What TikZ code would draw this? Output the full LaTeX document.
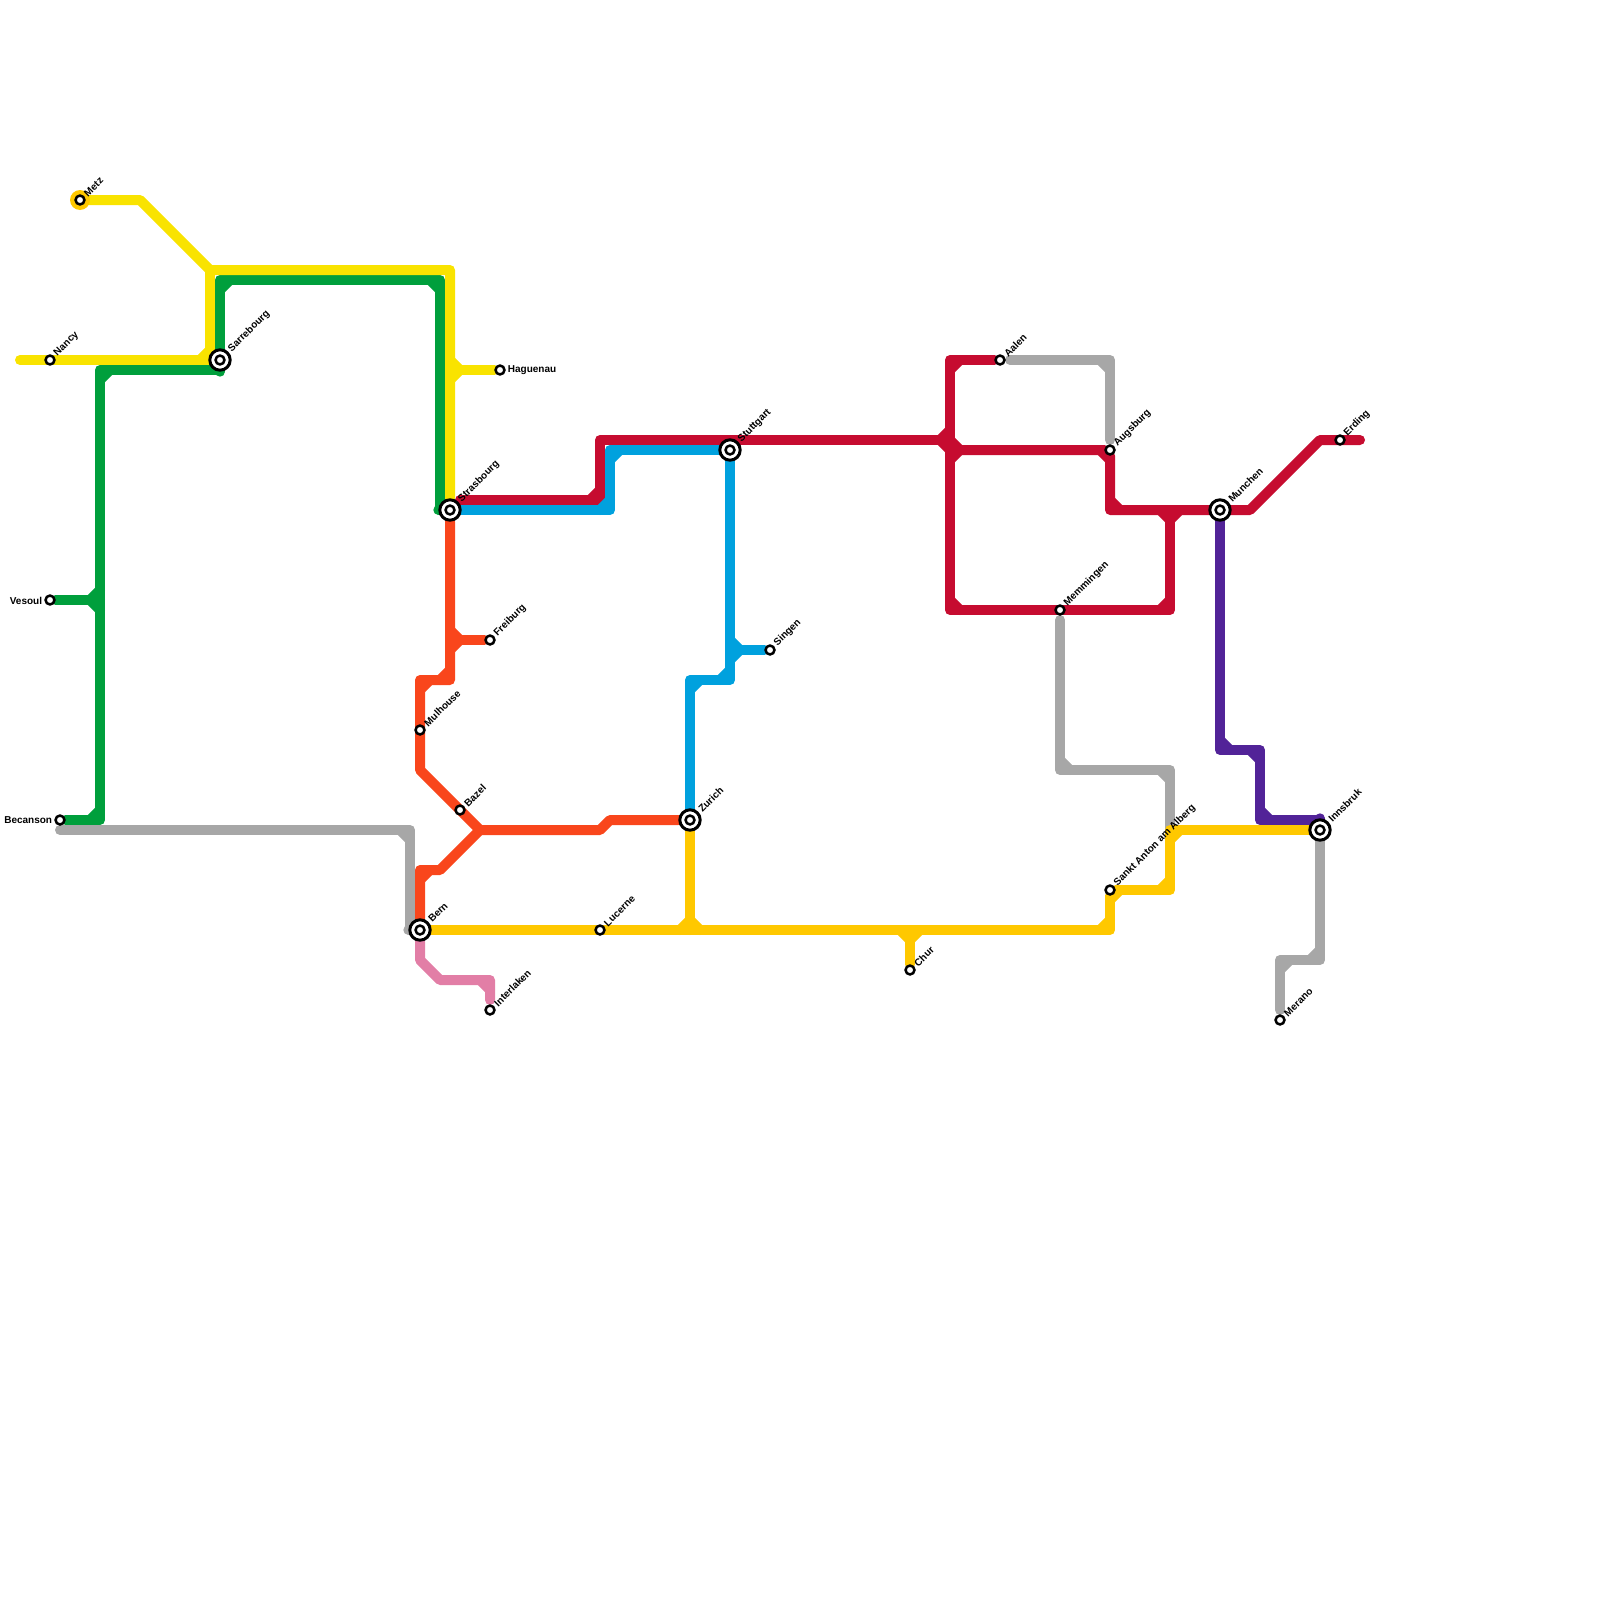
\documentclass[tikz,border=0pt]{standalone}
\usepackage{fontspec}
\setmainfont{Liberation Sans}
\usetikzlibrary{backgrounds}
\definecolor{cyellow}{HTML}{F9E300}
\definecolor{cgreen}{HTML}{009F3C}
\definecolor{cgray}{HTML}{A7A7A7}
\definecolor{cred}{HTML}{C60C30}
\definecolor{cblue}{HTML}{00A1DE}
\definecolor{corange}{HTML}{F9461C}
\definecolor{cpink}{HTML}{E27EA6}
\definecolor{cpurple}{HTML}{522398}
\definecolor{cgold}{HTML}{FFC800}
\tikzset{
	metro/.style={line width=10pt,line join=round,line cap=round},
	stop/.style={circle,draw=black,line width=2.5pt,fill=white,inner sep=0pt,minimum size=8.9pt},
	hub/.style={stop,line width=3pt,minimum size=20.4pt,path picture={\draw[line width=2.5pt] (path picture bounding box.center) circle (4.45pt);}},
	toptext/.style={xshift=1.6pt,yshift=-1.3pt,rotate=45,anchor=west,inner sep=0pt,label distance=2.5pt,font=\fontsize{10}{12}\selectfont\bfseries},
	flattext/.style={yshift=-0.5pt,inner sep=0pt,label distance=2pt,font=\fontsize{10}{12}\selectfont\bfseries}
}
\newcommand{\cuts}[2]{\foreach \c/\sx/\sy in {#2} \draw[metro,#1] (\c) ++(10*\sx,0) -- ++(-10*\sx,10*\sy);}
\begin{document}
\begin{tikzpicture}[x=1pt,y=-1pt]
\useasboundingbox (0,0) rectangle (1600,1600);

% stations
\node[stop,label={[toptext,name=metz_t]45:Metz}]					(metz)			at (80,200)		{};
\node[stop,label={[toptext,name=nancy_t]45:Nancy}]					(nancy)			at (50,360)		{};
\node[hub,label={[toptext,name=sarrebourg_t]45:Sarrebourg}]			(sarrebourg)	at (220,360)	{};
\node[stop,label={[flattext,name=vesoul_t]180:Vesoul}]				(vesoul)		at (50,600)		{};
\node[stop,label={[flattext,name=becanson_t]180:Becanson}]			(becanson)		at (60,820)		{};
\node[stop,label={[flattext,name=haguenau_t]0:Haguenau}]			(haguenau)		at (500,370)	{};
\node[hub,label={[toptext,name=strasbourg_t]45:Strasbourg}]			(strasbourg)	at (450,510)	{};
\node[stop,label={[toptext,name=freiburg_t]45:Freiburg}]			(freiburg)		at (490,640)	{};
\node[stop,label={[toptext,name=mulhouse_t]45:Mulhouse}]			(mulhouse)		at (420,730)	{};
\node[stop,label={[toptext,name=bazel_t]45:Bazel}]					(bazel)			at (460,810)	{};
\node[hub,label={[toptext,name=bern_t]45:Bern}]						(bern)			at (420,930)	{};
\node[stop,label={[toptext,name=interlaken_t]45:Interlaken}]		(interlaken)	at (490,1010)	{};
\node[stop,label={[toptext,name=lucerne_t]45:Lucerne}]				(lucerne)		at (600,930)	{};
\node[hub,label={[toptext,name=zurich_t]45:Zurich}]					(zurich)		at (690,820)	{};
\node[hub,label={[toptext,name=stuttgart_t]45:Stuttgart}]			(stuttgart)		at (730,450)	{};
\node[stop,label={[toptext,name=singen_t]45:Singen}]				(singen)		at (770,650)	{};
\node[stop,label={[toptext,name=chur_t]45:Chur}]					(chur)			at (910,970)	{};
\node[stop,label={[toptext,name=aalen_t]45:Aalen}]					(aalen)			at (1000,360)	{};
\node[stop,label={[toptext,name=augsburg_t]45:Augsburg}]			(augsburg)		at (1110,450)	{};
\node[stop,label={[toptext,name=memmingen_t]45:Memmingen}]			(memmingen)		at (1060,610)	{};
\node[stop,label={[toptext,name=sanktanton_t]45:Sankt Anton am Alberg}]	(sanktanton)	at (1110,890)	{};
\node[hub,label={[toptext,name=munchen_t]45:Munchen}]				(munchen)		at (1220,510)	{};
\node[stop,label={[toptext,name=erding_t]45:Erding}]				(erding)		at (1340,440)	{};
\node[hub,label={[toptext,name=innsbruk_t]45:Innsbruk}]				(innsbruk)		at (1320,830)	{};
\node[stop,label={[toptext,name=merano_t]45:Merano}]				(merano)		at (1280,1020)	{};

% bends
\foreach \n/\x/\y in {
	g1/220/280,g2/440/280,g3/440/510,g4/220/370,g5/100/370,g6/100/820,g7/100/600,
	y1/20/360,y2/140/200,y3/210/270,y4/450/270,y5/210/360,y6/450/370,
	a1/60/830,a2/410/830,a3/410/930,a4/1110/360,a5/1060/770,a6/1170/770,a7/1170/830,a8/1320/960,a9/1280/960,
	r1/460/500,r2/600/500,r3/600/440,r4/950/440,r5/950/450,r6/950/360,r7/950/610,r8/1170/610,r9/1170/510,r10/1110/510,r11/1250/510,r12/1320/440,r13/1360/440,
	b1/610/510,b2/610/450,b3/730/680,b4/690/680,b5/730/650,
	o1/450/680,o2/420/680,o3/420/770,o4/480/830,o5/600/830,o6/610/820,o7/440/870,o8/420/870,o9/450/640,
	p1/420/960,p2/440/980,p3/490/980,
	u1/1220/750,u2/1260/750,u3/1260/820,u4/1320/820,
	l1/690/930,l2/910/930,l3/1110/930,l5/1170/890,l6/1170/830}
	\coordinate (\n) at (\x,\y);

\begin{scope}[on background layer]
% green
\draw[metro,cgreen] (sarrebourg) -- (g1) -- (g2) -- (g3) -- (strasbourg);
\draw[metro,cgreen] (sarrebourg) -- (g4) -- (g5) -- (g6) -- (becanson);
\draw[metro,cgreen] (vesoul) -- (g7);
\cuts{cgreen}{g1/1/1,g2/-1/1,g5/1/1,g6/-1/-1,g7/-1/-1,g7/-1/1}
% yellow
\draw[metro,cyellow] (metz) -- (y2) -- (y3) -- (y4) -- (strasbourg);
\draw[metro,cyellow] (y1) -- (sarrebourg);
\draw[metro,cyellow] (y3) -- (y5);
\draw[metro,cyellow] (y6) -- (haguenau);
\cuts{cyellow}{y5/-1/-1,y6/1/-1,y6/1/1}
% gray
\draw[metro,cgray] (a1) -- (a2) -- (a3) -- (bern);
\draw[metro,cgray,shorten <=4.3pt,shorten >=4.3pt] (aalen) -- (a4) -- (augsburg);
\draw[metro,cgray,shorten <=4.3pt] (memmingen) -- (a5) -- (a6) -- (a7);
\draw[metro,cgray,shorten >=4.3pt] (innsbruk) -- (a8) -- (a9) -- (merano);
\cuts{cgray}{a2/-1/1,a4/-1/1,a5/1/-1,a6/-1/1,a8/-1/-1,a9/1/1}
% red
\draw[metro,cred] (r1) -- (r2) -- (r3) -- (r4);
\draw[metro,cred] (aalen) -- (r6) -- (r7) -- (r8) -- (r9);
\draw[metro,cred] (r5) -- (augsburg) -- (r10) -- (r11) -- (r12) -- (r13);
\cuts{cred}{r2/-1/-1,r4/-1/-1,r4/-1/1,r5/1/-1,r5/1/1,r6/1/1,r7/1/-1,r8/-1/-1,r9/-1/1,r9/1/1,r10/1/-1,augsburg.center/-1/1}
% blue
\draw[metro,cblue] (strasbourg) -- (b1) -- (b2) -- (stuttgart) -- (b3) -- (b4) -- (zurich);
\draw[metro,cblue] (b5) -- (singen);
\cuts{cblue}{b1/-1/-1,b2/1/1,b3/-1/-1,b4/1/1,b5/1/-1,b5/1/1}
% orange
\draw[metro,corange] (strasbourg) -- (o1) -- (o2) -- (o3) -- (o4) -- (o5) -- (o6) -- (zurich);
\draw[metro,corange] (o4) -- (o7) -- (o8) -- (bern);
\draw[metro,corange] (o9) -- (freiburg);
\cuts{corange}{o1/-1/-1,o2/1/1,o8/1/1,o9/1/-1,o9/1/1}
% pink
\draw[metro,cpink,shorten >=4.3pt] (bern) -- (p1) -- (p2) -- (p3) -- (interlaken);
\cuts{cpink}{p3/-1/1}
% purple
\draw[metro,cpurple] (munchen) -- (u1) -- (u2) -- (u3) -- (u4) -- (innsbruk);
\cuts{cpurple}{u1/1/-1,u2/-1/1,u3/1/-1}
% gold
\draw[metro,cgold] (bern) -- (l3) -- (sanktanton) -- (l5) -- (l6) -- (innsbruk);
\draw[metro,cgold] (zurich) -- (l1);
\draw[metro,cgold] (l2) -- (chur);
\cuts{cgold}{l3/-1/-1,sanktanton.center/1/1,l5/-1/-1,l6/1/1,l1/-1/-1,l1/1/-1,l2/-1/1,l2/1/1}
\fill[cgold] (metz.center) circle (10pt);
\end{scope}
\end{tikzpicture}
\end{document}
